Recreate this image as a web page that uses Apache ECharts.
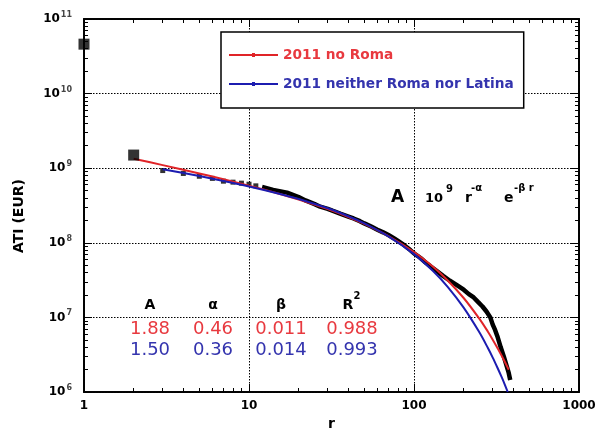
<!DOCTYPE html>
<html>
<head>
<meta charset="utf-8">
<script src="https://cdn.jsdelivr.net/npm/echarts@6/dist/echarts.min.js"></script>
<style>html,body{margin:0;padding:0;background:#fff}#c{width:598px;height:430px}</style>
</head>
<body>
<div id="c"></div>
<script>
// ---- data ----
const bigR = [1, 2];
const bigV = [4.6e10, 1.5e9];
const sparseR = [3, 4, 5, 6, 7, 8, 9, 10, 11];
const sparseV = [9.3e8, 8.5e8, 7.8e8, 7.3e8, 6.7e8, 6.5e8, 6.3e8, 6.1e8, 5.8e8];
const denseR = [12,14,17,20,22,25,27,30,32,36,40,43,47,50,55,60,65,70,75,80,85,90,95,100,105,110,118,125,135,150,165,180,200,215,230,245,260,275,290,300,310,320,335,350,365,375,383];
const denseV = [5.6e8,5.1e8,4.7e8,4.1e8,3.7e8,3.3e8,3.05e8,2.85e8,2.7e8,2.45e8,2.25e8,2.12e8,1.95e8,1.82e8,1.65e8,1.5e8,1.38e8,1.27e8,1.16e8,1.06e8,9.7e7,8.8e7,8.0e7,7.2e7,6.7e7,6.2e7,5.4e7,4.9e7,4.3e7,3.6e7,3.1e7,2.75e7,2.35e7,2.05e7,1.85e7,1.6e7,1.4e7,1.2e7,1.0e7,8.0e6,6.8e6,5.6e6,4.0e6,3.0e6,2.2e6,1.8e6,1.45e6];
const redR = [2,3,5,7,10,15,20,30,40,50,70,100,130,160,200,250,280,300,325,350,375];
const redV = [1.34e9,1.10e9,8.49e8,7.11e8,5.84e8,4.59e8,3.80e8,2.83e8,2.22e8,1.79e8,1.23e8,7.52e7,4.80e7,3.13e7,1.82e7,9.48e6,6.48e6,5.03e6,3.68e6,2.70e6,1.99e6];
const blueR = [3,5,7,10,15,20,30,40,50,70,100,130,160,200,250,280,300,320,340,355,370];
const blueV = [9.69e8,7.84e8,6.75e8,5.69e8,4.59e8,3.86e8,2.90e8,2.27e8,1.82e8,1.22e8,7.05e7,4.21e7,2.57e7,1.35e7,6.21e6,3.91e6,2.89e6,2.13e6,1.58e6,1.26e6,1.0e6];
const seriesNames = ['2011 no Roma', '2011 neither Roma nor Latina'];
const xTickLabels = [1, 10, 100, 1000];
const minorXTicks = [2,3,4,5,6,7,8,9,20,30,40,50,60,70,80,90,200,300,400,500,600,700,800,900];
const minorYTicks = [2e6,3e6,4e6,5e6,6e6,7e6,8e6,9e6,2e7,3e7,4e7,5e7,6e7,7e7,8e7,9e7,2e8,3e8,4e8,5e8,6e8,7e8,8e8,9e8,2e9,3e9,4e9,5e9,6e9,7e9,8e9,9e9,2e10,3e10,4e10,5e10,6e10,7e10,8e10,9e10];
const tableHead = ['A', 'α', 'β', 'R'];
const tableRed = ['1.88', '0.46', '0.011', '0.988'];
const tableBlue = ['1.50', '0.36', '0.014', '0.993'];

const RED = '#e02428', BLUE = '#1c1cb0', RED_T = '#e8393f', BLUE_T = '#3434ae';
const FF = 'DejaVu Sans';
const XMIN = 1, XMAX = 1000, YMIN = 1e6, YMAX = 1e11;

function zip(a, b) { return a.map((v, i) => [v, b[i]]); }

const gridLine = { show: true, lineStyle: { color: '#000', type: [1.5, 1.5], width: 1 } };
const frameLine = { show: true, onZero: false, lineStyle: { color: '#000', width: 1.5 } };

// label-less axes that only carry frame lines and inside tick marks
function frameAxis(kind, position) {
  const isX = kind === 'x';
  return { type: 'log', logBase: 10, min: isX ? XMIN : YMIN, max: isX ? XMAX : YMAX, position: position,
    axisLine: frameLine, splitLine: { show: false }, axisLabel: { show: false },
    axisTick: { show: true, inside: true, length: 8, lineStyle: { color: '#000', width: 1 } } };
}
function minorAxis(kind, position, values) {
  const isX = kind === 'x';
  return { type: 'log', logBase: 10, min: isX ? XMIN : YMIN, max: isX ? XMAX : YMAX, position: position,
    axisLine: frameLine, splitLine: { show: false }, axisLabel: { show: false },
    axisTick: { show: true, inside: true, length: 4, customValues: values, lineStyle: { color: '#000', width: 1 } } };
}

const chart = echarts.init(document.getElementById('c'), null, { renderer: 'canvas' });

const graphics = [];
graphics.push({ type: 'text', x: 19, y: 216, rotation: Math.PI / 2,
  style: { text: 'ATI (EUR)', font: 'bold 14px "DejaVu Sans"', fill: '#000', align: 'center', verticalAlign: 'middle' } });
graphics.push({ type: 'text', left: 391, top: 189, style: { text: 'A', font: 'bold 17px "DejaVu Sans"', fill: '#000' } });
graphics.push({ type: 'text', left: 425, top: 192, style: { text: '10', font: 'bold 13px "DejaVu Sans"', fill: '#000' } });
graphics.push({ type: 'text', left: 446, top: 184, style: { text: '9', font: 'bold 10px "DejaVu Sans"', fill: '#000' } });
graphics.push({ type: 'text', left: 465, top: 191, style: { text: 'r', font: 'bold 14px "DejaVu Sans"', fill: '#000' } });
graphics.push({ type: 'text', left: 471, top: 183, style: { text: '-α', font: 'bold 10px "DejaVu Sans"', fill: '#000' } });
graphics.push({ type: 'text', left: 504, top: 191, style: { text: 'e', font: 'bold 14px "DejaVu Sans"', fill: '#000' } });
graphics.push({ type: 'text', left: 514, top: 183, style: { text: '-β r', font: 'bold 10px "DejaVu Sans"', fill: '#000' } });
const colX = [150, 213, 281, 352];
tableHead.forEach((h, i) => {
  graphics.push({ type: 'text', x: colX[i] + (i === 3 ? -4 : 0), y: 305, style: { text: h, font: 'bold 14px "DejaVu Sans"', fill: '#000', align: 'center', verticalAlign: 'middle' } });
});
graphics.push({ type: 'text', x: colX[3] + 5, y: 296, style: { text: '2', font: 'bold 10px "DejaVu Sans"', fill: '#000', align: 'center', verticalAlign: 'middle' } });
tableRed.forEach((t, i) => {
  graphics.push({ type: 'text', x: colX[i], y: 329, style: { text: t, font: '18px "DejaVu Sans"', fill: RED_T, align: 'center', verticalAlign: 'middle' } });
});
tableBlue.forEach((t, i) => {
  graphics.push({ type: 'text', x: colX[i], y: 350, style: { text: t, font: '18px "DejaVu Sans"', fill: BLUE_T, align: 'center', verticalAlign: 'middle' } });
});

const legendIcon = 'path://M0,1L49,1L49,3L0,3Z M23,0L26,0L26,4L23,4Z';

chart.setOption({
  animation: false,
  backgroundColor: '#fff',
  grid: { left: 84, right: 19, top: 19, bottom: 38, outerBoundsMode: 'none', containLabel: false,
    show: true, borderColor: '#000', borderWidth: 1.5, backgroundColor: 'transparent' },
  legend: {
    orient: 'vertical', left: 221, top: 32,
    padding: [16, 10, 17, 8], itemGap: 15,
    itemWidth: 49, itemHeight: 4, icon: legendIcon,
    borderColor: '#000', borderWidth: 1.5, backgroundColor: '#fff',
    textStyle: { fontFamily: FF, fontWeight: 'bold', fontSize: 13.7 },
    data: [
      { name: seriesNames[0], textStyle: { color: RED_T } },
      { name: seriesNames[1], textStyle: { color: BLUE_T } }
    ]
  },
  xAxis: [{
    type: 'log', logBase: 10, min: XMIN, max: XMAX, position: 'bottom',
    name: 'r', nameLocation: 'middle', nameGap: 25,
    nameTextStyle: { fontFamily: FF, fontWeight: 'bold', fontSize: 14, color: '#000' },
    axisLine: frameLine,
    axisTick: { show: true, inside: true, length: 8, lineStyle: { color: '#000', width: 1 } },
    axisLabel: { fontFamily: FF, fontWeight: 'bold', fontSize: 12, color: '#000', margin: 8,
      formatter: v => xTickLabels.indexOf(Math.round(v)) >= 0 ? String(Math.round(v)) : '' },
    splitLine: gridLine
  },
    minorAxis('x', 'bottom', minorXTicks),
    frameAxis('x', 'top'),
    minorAxis('x', 'top', minorXTicks)
  ],
  yAxis: [{
    type: 'log', logBase: 10, min: YMIN, max: YMAX, position: 'left',
    axisLine: frameLine,
    axisTick: { show: true, inside: true, length: 8, lineStyle: { color: '#000', width: 1 } },
    axisLabel: { margin: 12, color: '#000',
      formatter: v => '{b|10}{s|' + Math.round(Math.log10(v)) + '}',
      rich: {
        b: { fontFamily: FF, fontWeight: 'bold', fontSize: 12, color: '#000' },
        s: { fontFamily: FF, fontWeight: 'bold', fontSize: 8, color: '#444', verticalAlign: 'top', padding: [0, 0, 8, 1] }
      }
    },
    splitLine: gridLine
  },
    minorAxis('y', 'left', minorYTicks),
    frameAxis('y', 'right'),
    minorAxis('y', 'right', minorYTicks)
  ],
  series: [
    { name: seriesNames[0], type: 'line', data: zip(redR, redV), smooth: 0.3, symbol: 'rect', symbolSize: 3, showSymbol: false,
      lineStyle: { color: RED, width: 2 }, itemStyle: { color: RED }, z: 3 },
    { name: seriesNames[1], type: 'line', data: zip(blueR, blueV), smooth: 0.3, symbol: 'rect', symbolSize: 3, showSymbol: false,
      lineStyle: { color: BLUE, width: 2 }, itemStyle: { color: BLUE }, z: 4 },
    { name: 'dense', type: 'line', data: zip(denseR, denseV), showSymbol: false, symbol: 'none',
      lineStyle: { color: '#000', width: 4.5 }, z: 2 },
    { name: 'sparse', type: 'scatter', data: zip(sparseR, sparseV), symbol: 'rect', symbolSize: 5, itemStyle: { color: '#000' }, z: 2 },
    { name: 'big', type: 'scatter', data: zip(bigR, bigV), symbol: 'rect', symbolSize: 11, itemStyle: { color: '#000' }, z: 6, clip: false }
  ],
  graphic: graphics
});
</script>
</body>
</html>
